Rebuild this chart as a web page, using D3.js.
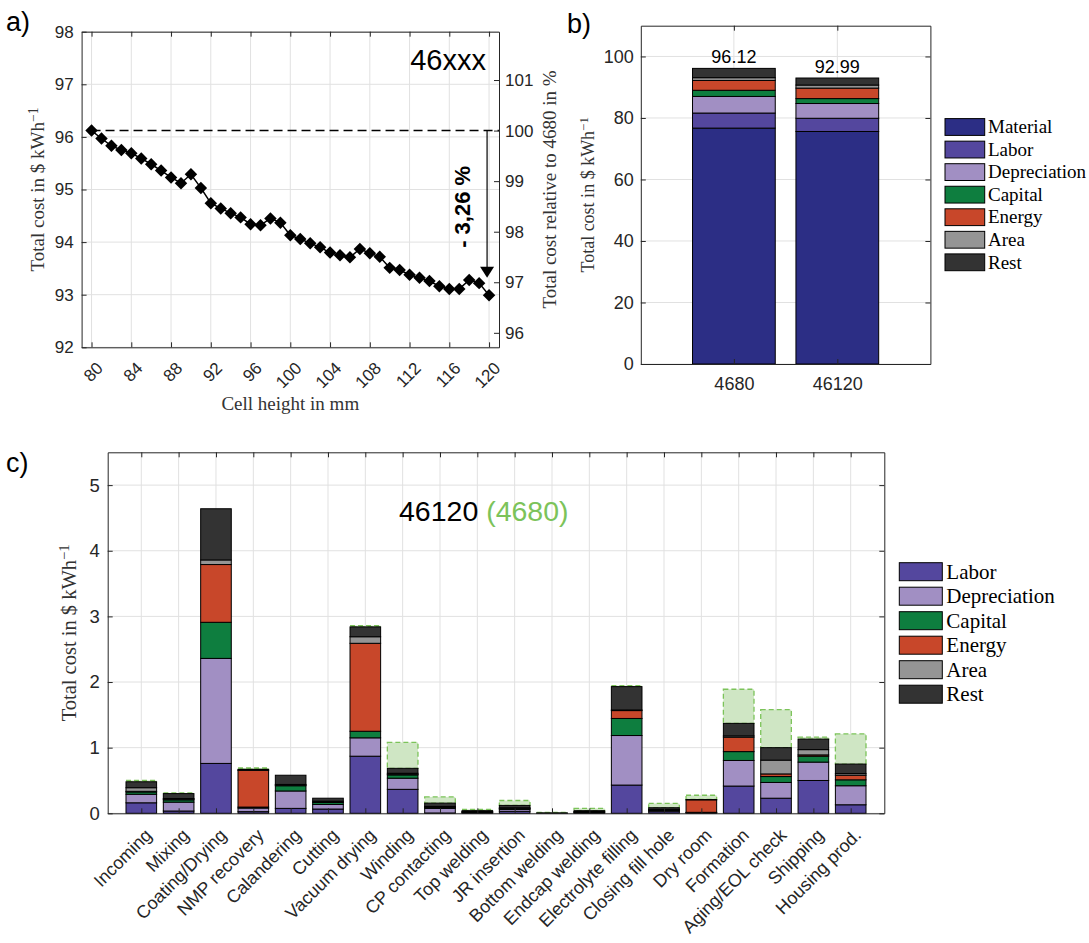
<!DOCTYPE html>
<html>
<head>
<meta charset="utf-8">
<script src="https://cdn.jsdelivr.net/npm/d3@7"></script>
<style>
  body { margin: 0; background: #fff; }
</style>
</head>
<body>
<script>
/////////////
// data
/////////////

// a) cell height sweep, 46xxx format
var cellHeight = [80, 81, 82, 83, 84, 85, 86, 87, 88, 89, 90, 91, 92, 93, 94, 95, 96, 97, 98, 99, 100,
  101, 102, 103, 104, 105, 106, 107, 108, 109, 110, 111, 112, 113, 114, 115, 116, 117, 118, 119, 120];
var totalCost = [96.12, 95.97, 95.83, 95.75, 95.69, 95.59, 95.48, 95.36, 95.23, 95.12, 95.29,
  95.03, 94.74, 94.64, 94.55, 94.47, 94.34, 94.32, 94.45, 94.37, 94.13,
  94.06, 93.98, 93.90, 93.80, 93.75, 93.71, 93.87, 93.79, 93.72, 93.51,
  93.47, 93.38, 93.32, 93.26, 93.16, 93.11, 93.11, 93.28, 93.22, 92.99];
var heightTicks = [80, 84, 88, 92, 96, 100, 104, 108, 112, 116, 120];
var costTicks = [92, 93, 94, 95, 96, 97, 98];
var relTicks = [96, 97, 98, 99, 100, 101];
var arrowEnd = 93.32;   // tip of the -3,26 % arrow

// b) cost breakdown 4680 vs 46120
var cellTypes = ['4680', '46120'];
var costParts = ['Material', 'Labor', 'Depreciation', 'Capital', 'Energy', 'Area', 'Rest'];
var material = [76.7, 75.6];
var labor = [4.9, 4.3];
var depreciation = [5.4, 4.8];
var capital = [2.0, 1.6];
var energy = [3.2, 3.4];
var area = [0.9, 1.0];
var rest = [3.02, 2.29];
var cellCostTicks = [0, 20, 40, 60, 80, 100];

// c) process steps of the 46120 (4680 shown where it is higher)
var steps = ['Incoming', 'Mixing', 'Coating/Drying', 'NMP recovery', 'Calandering', 'Cutting',
  'Vacuum drying', 'Winding', 'CP contacting', 'Top welding', 'JR insertion', 'Bottom welding',
  'Endcap welding', 'Electrolyte filling', 'Closing fill hole', 'Dry room', 'Formation',
  'Aging/EOL check', 'Shipping', 'Housing prod.'];
var stepLabor  = [0.16, 0.035, 0.76, 0.025, 0.075, 0.065, 0.87, 0.365, 0.005, 0.005, 0.03, 0.002, 0.005, 0.43, 0.025, 0.005, 0.415, 0.23, 0.50, 0.13];
var stepDepr   = [0.13, 0.135, 1.60, 0.055, 0.265, 0.07, 0.28, 0.17, 0.07, 0.01, 0.03, 0.003, 0.01, 0.755, 0.02, 0.005, 0.39, 0.24, 0.28, 0.29];
var stepCap    = [0.035, 0.035, 0.55, 0.015, 0.08, 0.03, 0.10, 0.05, 0.015, 0.005, 0.01, 0, 0.005, 0.26, 0.005, 0.005, 0.135, 0.09, 0.09, 0.09];
var stepEnergy = [0.01, 0.01, 0.88, 0.56, 0.01, 0.01, 1.34, 0.01, 0.005, 0, 0.005, 0, 0, 0.12, 0.005, 0.19, 0.22, 0.04, 0.02, 0.07];
var stepArea   = [0.055, 0.01, 0.07, 0.005, 0.01, 0.01, 0.10, 0.015, 0.01, 0.005, 0.01, 0, 0.005, 0.01, 0.005, 0, 0.02, 0.21, 0.08, 0.025];
var stepRest   = [0.09, 0.075, 0.78, 0.01, 0.14, 0.045, 0.15, 0.075, 0.05, 0.015, 0.035, 0, 0.015, 0.355, 0.025, 0.005, 0.19, 0.19, 0.16, 0.145];
// 4680 total per step, null where the 4680 is cheaper than the 46120
var step4680   = [0.50, 0.31, null, 0.69, null, null, 2.86, 1.08, 0.25, 0.06, 0.195, 0.015, 0.075, 1.945, 0.15, 0.275, 1.89, 1.58, 1.16, 1.21];
var stepTicks = [0, 1, 2, 3, 4, 5];

/////////////
// style
/////////////
var SANS = 'Liberation Sans, Arial, sans-serif';
var SERIF = 'Liberation Serif, Times New Roman, serif';
var AXIS = '#262626';
var GRID = '#e1e1e1';
var GREEN = '#7cc35a';
var fmt = d3.format('d');
var partColor = {
  Material: '#2c2e85', Labor: '#54479e', Depreciation: '#a18fc3', Capital: '#0e7e3f',
  Energy: '#c8472a', Area: '#959595', Rest: '#333333'
};

var svg = d3.select('body').append('svg')
  .attr('width', 1089).attr('height', 943)
  .style('background', '#fff');

function styleAxis(sel, size) {
  sel.attr('font-family', SANS).attr('font-size', size);
  sel.select('.domain').attr('stroke', AXIS);
  sel.selectAll('.tick line').attr('stroke', AXIS);
  sel.selectAll('.tick text').attr('fill', AXIS);
}

function costLabel(sel) {
  sel.append('tspan').text('Total cost in $ kWh');
  sel.append('tspan').attr('dy', '-0.45em').attr('font-size', '0.72em').text('\u22121');
}

function panelTag(x, y, s) {
  svg.append('text').attr('x', x).attr('y', y).attr('font-family', SANS)
    .attr('font-size', 27).attr('fill', '#000').text(s);
}

/////////////
// a) cost vs cell height
/////////////
var A = {l: 81.6, r: 499, t: 31.7, b: 347.3};
var xA = d3.scaleLinear().domain([79, 121]).range([A.l, A.r]);
var yA = d3.scaleLinear().domain([92, 98]).range([A.b, A.t]);
var yA2 = d3.scaleLinear()
  .domain(yA.domain().map(function(v) { return v / totalCost[0] * 100; }))
  .range([A.b, A.t]);
var gA = svg.append('g');

gA.selectAll('line.gx').data(heightTicks).enter().append('line').attr('class', 'gx')
  .attr('x1', function(d) { return xA(d); }).attr('x2', function(d) { return xA(d); })
  .attr('y1', A.t).attr('y2', A.b).attr('stroke', GRID);
gA.selectAll('line.gy').data(costTicks).enter().append('line').attr('class', 'gy')
  .attr('x1', A.l).attr('x2', A.r)
  .attr('y1', function(d) { return yA(d); }).attr('y2', function(d) { return yA(d); })
  .attr('stroke', GRID);

// reference line at the 80 mm value
gA.append('line')
  .attr('x1', xA(cellHeight[0])).attr('x2', A.r)
  .attr('y1', yA(totalCost[0])).attr('y2', yA(totalCost[0]))
  .attr('stroke', '#000').attr('stroke-width', 1.5).attr('stroke-dasharray', '9,5');

// arrow
var arrowX = xA(119.8);
gA.append('line')
  .attr('x1', arrowX).attr('x2', arrowX)
  .attr('y1', yA(totalCost[0])).attr('y2', yA(arrowEnd) - 10)
  .attr('stroke', '#000').attr('stroke-width', 1.2);
gA.append('path')
  .attr('d', 'M' + (arrowX - 7) + ',' + (yA(arrowEnd) - 11) + 'L' + (arrowX + 7) + ',' + (yA(arrowEnd) - 11) +
    'L' + arrowX + ',' + yA(arrowEnd) + 'Z')
  .attr('fill', '#000');

gA.append('path')
  .datum(totalCost)
  .attr('fill', 'none').attr('stroke', '#000').attr('stroke-width', 1.5)
  .attr('d', d3.line()
    .x(function(d, i) { return xA(cellHeight[i]); })
    .y(function(d) { return yA(d); }));

gA.selectAll('path.mk').data(totalCost).enter().append('path').attr('class', 'mk')
  .attr('d', d3.symbol().type(d3.symbolSquare).size(78))
  .attr('transform', function(d, i) { return 'translate(' + xA(cellHeight[i]) + ',' + yA(d) + ') rotate(45)'; })
  .attr('fill', '#000');

var pct = (totalCost[totalCost.length - 1] / totalCost[0] - 1) * 100;
gA.append('text')
  .attr('transform', 'translate(' + xA(117.3) + ',' + yA(94.67) + ') rotate(-90)')
  .attr('text-anchor', 'middle').attr('dy', '0.36em')
  .attr('font-family', SANS).attr('font-weight', 'bold').attr('font-size', 22)
  .text('- ' + Math.abs(pct).toFixed(2).replace('.', ',') + ' %');

gA.append('text').attr('x', 486).attr('y', 70).attr('text-anchor', 'end')
  .attr('font-family', SANS).attr('font-size', 29).text('46xxx');

var axA = gA.append('g').attr('transform', 'translate(0,' + A.b + ')')
  .call(d3.axisBottom(xA).tickValues(heightTicks).tickSize(-5).tickSizeOuter(0).tickFormat(fmt));
axA.selectAll('.tick text').attr('y', 0).attr('dy', 0)
  .attr('transform', 'translate(12,22) rotate(-45)').attr('text-anchor', 'end');
styleAxis(axA, 17);
styleAxis(gA.append('g').attr('transform', 'translate(0,' + A.t + ')')
  .call(d3.axisTop(xA).tickValues(heightTicks).tickSize(-5).tickSizeOuter(0).tickFormat('')), 17);
styleAxis(gA.append('g').attr('transform', 'translate(' + A.l + ',0)')
  .call(d3.axisLeft(yA).tickValues(costTicks).tickSize(-5).tickSizeOuter(0).tickPadding(8).tickFormat(fmt)), 17);
styleAxis(gA.append('g').attr('transform', 'translate(' + A.r + ',0)')
  .call(d3.axisRight(yA2).tickValues(relTicks).tickSize(-5).tickSizeOuter(0).tickPadding(6).tickFormat(fmt)), 17);

gA.append('text').attr('x', (A.l + A.r) / 2).attr('y', 410).attr('text-anchor', 'middle')
  .attr('font-family', SERIF).attr('font-size', 19).attr('fill', '#333').text('Cell height in mm');
gA.append('text').attr('transform', 'translate(44,' + (A.t + A.b) / 2 + ') rotate(-90)')
  .attr('text-anchor', 'middle').attr('font-family', SERIF).attr('font-size', 19).attr('fill', '#333')
  .call(costLabel);
gA.append('text').attr('transform', 'translate(556,' + (A.t + A.b) / 2 + ') rotate(-90)')
  .attr('text-anchor', 'middle').attr('font-family', SERIF).attr('font-size', 19).attr('fill', '#333')
  .text('Total cost relative to 4680 in %');

panelTag(6, 31, 'a)');

/////////////
// b) stacked cost of both formats
/////////////
var B = {l: 640.8, r: 930.4, t: 25.7, b: 364};
var xB = d3.scaleLinear().domain([0.1, cellTypes.length + 0.9]).range([B.l, B.r]);
var yB = d3.scaleLinear().domain([0, 110]).range([B.b, B.t]);
var partsB = [material, labor, depreciation, capital, energy, area, rest];
var rowsB = cellTypes.map(function(c, i) {
  var r = {cell: c};
  costParts.forEach(function(p, k) { r[p] = partsB[k][i]; });
  return r;
});
var stackB = d3.stack().keys(costParts)(rowsB);
var gB = svg.append('g');

gB.selectAll('line.gx').data(cellTypes).enter().append('line').attr('class', 'gx')
  .attr('x1', function(d, i) { return xB(i + 1); }).attr('x2', function(d, i) { return xB(i + 1); })
  .attr('y1', B.t).attr('y2', B.b).attr('stroke', GRID);
gB.selectAll('line.gy').data(cellCostTicks).enter().append('line').attr('class', 'gy')
  .attr('x1', B.l).attr('x2', B.r)
  .attr('y1', function(d) { return yB(d); }).attr('y2', function(d) { return yB(d); })
  .attr('stroke', GRID);

gB.selectAll('g.layer').data(stackB).enter().append('g').attr('class', 'layer')
  .attr('fill', function(s) { return partColor[s.key]; })
  .selectAll('rect').data(function(s) { return s; }).enter().append('rect')
  .attr('x', function(d, i) { return xB(i + 1 - 0.4); })
  .attr('width', xB(1.4) - xB(0.6))
  .attr('y', function(d) { return yB(d[1]); })
  .attr('height', function(d) { return yB(d[0]) - yB(d[1]); })
  .attr('stroke', '#000').attr('stroke-width', 1);

var topB = stackB[stackB.length - 1];
gB.selectAll('text.val').data(topB).enter().append('text').attr('class', 'val')
  .attr('x', function(d, i) { return xB(i + 1); })
  .attr('y', function(d) { return yB(d[1]) - 5; })
  .attr('text-anchor', 'middle').attr('font-family', SANS).attr('font-size', 18)
  .text(function(d) { return d[1].toFixed(2); });

var axB = gB.append('g').attr('transform', 'translate(0,' + B.b + ')')
  .call(d3.axisBottom(xB).tickValues([1, 2]).tickSize(-5).tickSizeOuter(0).tickPadding(13)
    .tickFormat(function(v) { return cellTypes[v - 1]; }));
styleAxis(axB, 18);
styleAxis(gB.append('g').attr('transform', 'translate(0,' + B.t + ')')
  .call(d3.axisTop(xB).tickValues([1, 2]).tickSize(-5).tickSizeOuter(0).tickFormat('')), 18);
styleAxis(gB.append('g').attr('transform', 'translate(' + B.l + ',0)')
  .call(d3.axisLeft(yB).tickValues(cellCostTicks).tickSize(-5).tickSizeOuter(0).tickPadding(7).tickFormat(fmt)), 18);
styleAxis(gB.append('g').attr('transform', 'translate(' + B.r + ',0)')
  .call(d3.axisRight(yB).tickValues(cellCostTicks).tickSize(-5).tickSizeOuter(0).tickFormat('')), 18);

gB.append('text').attr('transform', 'translate(594,' + (B.t + B.b) / 2 + ') rotate(-90)')
  .attr('text-anchor', 'middle').attr('font-family', SERIF).attr('font-size', 18).attr('fill', '#333')
  .call(costLabel);

var legB = gB.selectAll('g.leg').data(costParts).enter().append('g').attr('class', 'leg')
  .attr('transform', function(d, k) { return 'translate(945,' + (127 + k * 22.55) + ')'; });
legB.append('rect').attr('x', 0).attr('y', -8.4).attr('width', 39.7).attr('height', 16.8)
  .attr('fill', function(d) { return partColor[d]; }).attr('stroke', '#000');
legB.append('text').attr('x', 43).attr('dy', '0.33em')
  .attr('font-family', SERIF).attr('font-size', 19).attr('fill', '#000')
  .text(function(d) { return d; });

panelTag(567, 33, 'b)');

/////////////
// c) per process step
/////////////
var C = {l: 107.7, r: 884.3, t: 452.3, b: 813.3};
var xC = d3.scaleLinear().domain([0.1, steps.length + 0.9]).range([C.l, C.r]);
var yC = d3.scaleLinear().domain([0, 5.5]).range([C.b, C.t]);
var stepParts = costParts.slice(1);
var partsC = [stepLabor, stepDepr, stepCap, stepEnergy, stepArea, stepRest];
var rowsC = steps.map(function(s, i) {
  var r = {step: s};
  stepParts.forEach(function(p, k) { r[p] = partsC[k][i]; });
  return r;
});
var stackC = d3.stack().keys(stepParts)(rowsC);
var topC = stackC[stackC.length - 1];
var halfW = 0.41;
var gC = svg.append('g');

gC.selectAll('line.gx').data(steps).enter().append('line').attr('class', 'gx')
  .attr('x1', function(d, i) { return xC(i + 1); }).attr('x2', function(d, i) { return xC(i + 1); })
  .attr('y1', C.t).attr('y2', C.b).attr('stroke', GRID);
gC.selectAll('line.gy').data(stepTicks).enter().append('line').attr('class', 'gy')
  .attr('x1', C.l).attr('x2', C.r)
  .attr('y1', function(d) { return yC(d); }).attr('y2', function(d) { return yC(d); })
  .attr('stroke', GRID);

// 4680 ghost bars (extra cost on top of the 46120 bar)
gC.selectAll('rect.ghost').data(step4680).enter().append('rect').attr('class', 'ghost')
  .attr('x', function(d, i) { return xC(i + 1 - halfW); })
  .attr('width', xC(1 + halfW) - xC(1 - halfW))
  .attr('y', function(d, i) { return d === null ? yC(0) : yC(d); })
  .attr('height', function(d, i) { return d === null ? 0 : yC(topC[i][1]) - yC(d); })
  .attr('fill', '#cfe6c4').attr('stroke', GREEN).attr('stroke-width', 1.3)
  .attr('stroke-dasharray', '5,3');

gC.selectAll('g.layer').data(stackC).enter().append('g').attr('class', 'layer')
  .attr('fill', function(s) { return partColor[s.key]; })
  .selectAll('rect').data(function(s) { return s; }).enter().append('rect')
  .attr('x', function(d, i) { return xC(i + 1 - halfW); })
  .attr('width', xC(1 + halfW) - xC(1 - halfW))
  .attr('y', function(d) { return yC(d[1]); })
  .attr('height', function(d) { return yC(d[0]) - yC(d[1]); })
  .attr('stroke', '#000').attr('stroke-width', 1);

var stepIdx = steps.map(function(s, i) { return i + 1; });
var axC = gC.append('g').attr('transform', 'translate(0,' + C.b + ')')
  .call(d3.axisBottom(xC).tickValues(stepIdx).tickSize(-5).tickSizeOuter(0)
    .tickFormat(function(v) { return steps[v - 1]; }));
axC.selectAll('.tick text').attr('y', 0).attr('dy', 0)
  .attr('transform', 'translate(11,23) rotate(-45)').attr('text-anchor', 'end');
styleAxis(axC, 18);
styleAxis(gC.append('g').attr('transform', 'translate(0,' + C.t + ')')
  .call(d3.axisTop(xC).tickValues(stepIdx).tickSize(-5).tickSizeOuter(0).tickFormat('')), 18);
styleAxis(gC.append('g').attr('transform', 'translate(' + C.l + ',0)')
  .call(d3.axisLeft(yC).tickValues(stepTicks).tickSize(-5).tickSizeOuter(0).tickPadding(8).tickFormat(fmt)), 18.5);
styleAxis(gC.append('g').attr('transform', 'translate(' + C.r + ',0)')
  .call(d3.axisRight(yC).tickValues(stepTicks).tickSize(-5).tickSizeOuter(0).tickFormat('')), 18);

var tC = gC.append('text').attr('x', 399).attr('y', 521).attr('font-family', SANS).attr('font-size', 28.5);
tC.append('tspan').attr('fill', '#000').text('46120 ');
tC.append('tspan').attr('fill', GREEN).text('(4680)');

gC.append('text').attr('transform', 'translate(76,' + (C.t + C.b) / 2 + ') rotate(-90)')
  .attr('text-anchor', 'middle').attr('font-family', SERIF).attr('font-size', 20.5).attr('fill', '#333')
  .call(costLabel);

var legC = gC.selectAll('g.leg').data(stepParts).enter().append('g').attr('class', 'leg')
  .attr('transform', function(d, k) { return 'translate(899.3,' + (571.7 + k * 24.5) + ')'; });
legC.append('rect').attr('x', 0).attr('y', -9).attr('width', 43).attr('height', 18)
  .attr('fill', function(d) { return partColor[d]; }).attr('stroke', '#000');
legC.append('text').attr('x', 47).attr('dy', '0.33em')
  .attr('font-family', SERIF).attr('font-size', 21).attr('fill', '#000')
  .text(function(d) { return d; });

panelTag(6, 472, 'c)');
</script>
</body>
</html>
